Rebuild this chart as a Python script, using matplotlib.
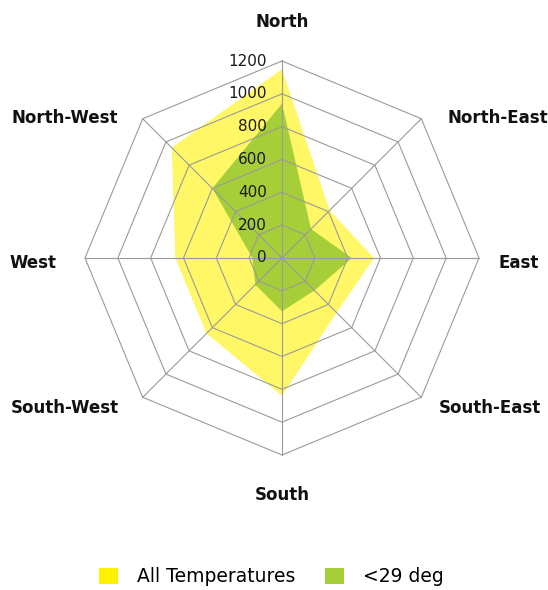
import numpy as np
import matplotlib
matplotlib.use("Agg")
import matplotlib.pyplot as plt
from matplotlib.patches import Patch

# directions, clockwise from North
directions = ["North", "North-East", "East", "South-East",
              "South", "South-West", "West", "North-West"]
all_temps = [1150, 410, 560, 470, 840, 650, 650, 950]
below_29 = [940, 250, 425, 280, 325, 230, 180, 600]
ring_levels = [200, 400, 600, 800, 1000, 1200]
tick_levels = [0, 200, 400, 600, 800, 1000, 1200]

yellow = "#FFF200"
green = "#A6CE39"
grid_col = "#9a9a9a"

plt.rcParams["font.family"] = ["DejaVu Sans"]

n = len(directions)
angles = np.linspace(0, 2 * np.pi, n, endpoint=False)
ang_closed = np.append(angles, angles[0])

fig = plt.figure(figsize=(5.48, 5.90), dpi=100)
ax = fig.add_axes([85 / 548, (590 - 258 - 197) / 590, 394 / 548, 394 / 590],
                  projection="polar")
ax.set_theta_offset(np.pi / 2)
ax.set_theta_direction(-1)
ax.set_ylim(0, 1200)
ax.grid(False)
ax.spines["polar"].set_visible(False)
ax.set_xticks([])
ax.set_yticks([])
ax.patch.set_visible(False)

# data polygons
ax.fill(ang_closed, all_temps + all_temps[:1], color=yellow, alpha=0.6, lw=0, zorder=1)
ax.fill(ang_closed, below_29 + below_29[:1], color=green, alpha=1.0, lw=0, zorder=2)

# polygon grid
for r in ring_levels:
    ax.plot(ang_closed, [r] * (n + 1), color=grid_col, lw=0.8, zorder=3, clip_on=False)
for a in angles:
    ax.plot([a, a], [0, 1200], color=grid_col, lw=0.8, zorder=3, clip_on=False)

# radial labels, left of the north spoke
for r in tick_levels:
    ax.annotate(str(r), xy=(0, r), xytext=(-15, 0), textcoords="offset pixels",
                ha="right", va="center", fontsize=11, color="#1a1a1a", zorder=4)

# direction labels (offsets in pixels from outer vertex)
offsets = {
    "North": (0, 39, "center"),
    "North-East": (26, 1, "left"),
    "East": (19, -5, "left"),
    "South-East": (17, -11, "left"),
    "South": (0, -40, "center"),
    "South-West": (-24, -11, "right"),
    "West": (-28, -5, "right"),
    "North-West": (-25, 1, "right"),
}
for a, name in zip(angles, directions):
    dx, dy, ha = offsets[name]
    ax.annotate(name, xy=(a, 1200), xytext=(dx, dy), textcoords="offset pixels",
                ha=ha, va="center", fontsize=12, fontweight="bold",
                color="#111111", annotation_clip=False)

handles = [Patch(facecolor=yellow, edgecolor="none", label="All Temperatures"),
           Patch(facecolor=green, edgecolor="none", label="<29 deg")]
fig.legend(handles=handles, loc="center", bbox_to_anchor=(0.495, 1 - 577 / 590),
           ncol=2, frameon=False, fontsize=13.5, handlelength=1.0, handleheight=1.0,
           handletextpad=1.0, columnspacing=1.6)

fig.savefig("out.png", dpi=100, facecolor="white")
